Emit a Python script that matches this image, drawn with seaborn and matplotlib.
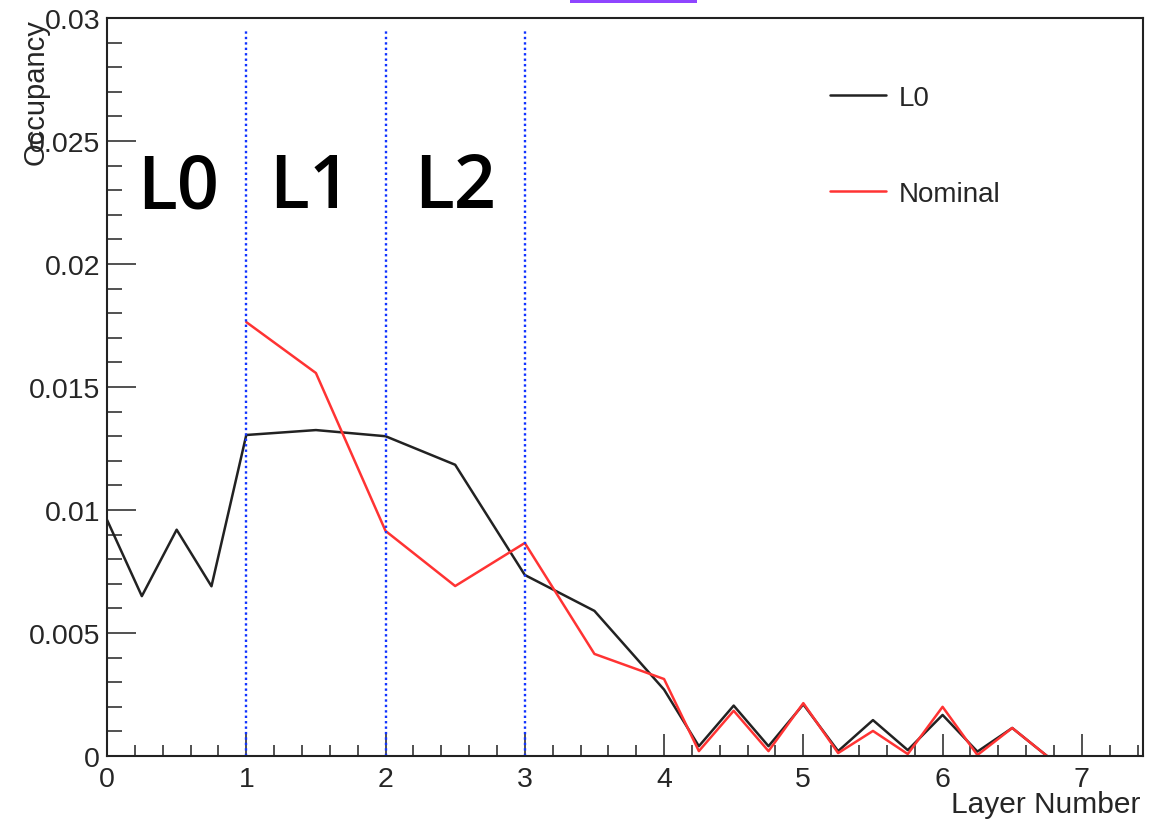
import numpy as np
import pandas as pd
import seaborn as sns
import matplotlib.pyplot as plt
from matplotlib.patches import Rectangle
from matplotlib.ticker import MultipleLocator

# values
l0_x = [0, 0.25, 0.5, 0.75, 1, 1.5, 2, 2.5, 3, 3.5, 4, 4.25, 4.5, 4.75,
        5, 5.25, 5.5, 5.75, 6, 6.25, 6.5, 6.75]
l0_y = [0.0096, 0.0065, 0.0092, 0.0069, 0.01305, 0.01325, 0.0130, 0.01184,
        0.00736, 0.0059, 0.0027, 0.0004, 0.00205, 0.0004, 0.0021, 0.0002,
        0.00146, 0.00024, 0.00167, 0.00018, 0.00114, 0.0]

nom_x = [1, 1.5, 2, 2.5, 3, 3.5, 4, 4.25, 4.5, 4.75, 5, 5.25, 5.5, 5.75,
         6, 6.25, 6.5, 6.75]
nom_y = [0.01764, 0.01557, 0.00915, 0.00691, 0.00866, 0.00415, 0.00313,
         0.0002, 0.00184, 0.0002, 0.00215, 0.00012, 0.00102, 0.00008,
         0.0020, 0.00004, 0.00114, 0.0]

layer_bounds = [1, 2, 3]
region_names = ["L0", "L1", "L2"]
region_centers = [0.51, 1.46, 2.5]

sns.set_style("ticks")
plt.rcParams['font.family'] = ['Liberation Sans', 'DejaVu Sans']

df = pd.concat([
    pd.DataFrame({"layer": l0_x, "occ": l0_y, "series": "L0"}),
    pd.DataFrame({"layer": nom_x, "occ": nom_y, "series": "Nominal"}),
])
colors = {"L0": "#222222", "Nominal": "#ff3333"}

fig = plt.figure(figsize=(11.57, 8.2), dpi=100)
ax = fig.add_axes([0.0925, 0.0768, 0.8955, 0.9], facecolor="white")

sns.lineplot(data=df, x="layer", y="occ", hue="series", palette=colors,
             sort=False, estimator=None, linewidth=1.8, ax=ax)

ax.vlines(layer_bounds, 0, 0.0295, colors="#1133ff", linestyles=(0, (1, 1.3)),
          linewidth=1.7)

for name, cx in zip(region_names, region_centers):
    ax.text(cx, 0.0223, name, ha="center", va="baseline", fontsize=53,
            family=["Open Sans", "DejaVu Sans"], fontweight="semibold",
            color="black")

ax.set_xlim(0, 7.44)
ax.set_ylim(0, 0.03)
ax.xaxis.set_major_locator(MultipleLocator(1))
ax.xaxis.set_minor_locator(MultipleLocator(0.2))
ax.yaxis.set_minor_locator(MultipleLocator(0.001))
ax.set_yticks([0, 0.005, 0.01, 0.015, 0.02, 0.025, 0.03])
ax.set_yticklabels(["0", "0.005", "0.01", "0.015", "0.02", "0.025", "0.03"])

ax.tick_params(axis="x", which="major", direction="in", length=16, width=1.2,
               labelsize=20.5, pad=7, color="#333333")
ax.tick_params(axis="x", which="minor", direction="in", length=8, width=1.2,
               color="#333333")
ax.tick_params(axis="y", which="major", direction="in", length=21, width=1.2,
               labelsize=20.5, pad=5, color="#333333")
ax.tick_params(axis="y", which="minor", direction="in", length=11, width=1.2,
               color="#333333")
for sp in ax.spines.values():
    sp.set_linewidth(1.5)
    sp.set_color("#222222")

ax.set_xlabel("Layer Number", fontsize=21.5, loc="right")
ax.xaxis.set_label_coords(0.997, -0.046)
ax.xaxis.label.set_va("top")
ax.set_ylabel("Occupancy", fontsize=21, loc="top")
ax.yaxis.set_label_coords(-0.055, 1.0)

handles, labels = ax.get_legend_handles_labels()
ax.legend(handles, labels, loc="upper left", bbox_to_anchor=(0.698, 0.909),
          frameon=False, fontsize=20, handlelength=2.0, handletextpad=0.45,
          labelspacing=2.5, borderpad=0, borderaxespad=0)

fig.add_artist(Rectangle((570 / 1157, 1 - 4 / 820), 127 / 1157, 4 / 820,
                         transform=fig.transFigure, color="#8f45ff", lw=0))

fig.savefig("out.png", dpi=100)
